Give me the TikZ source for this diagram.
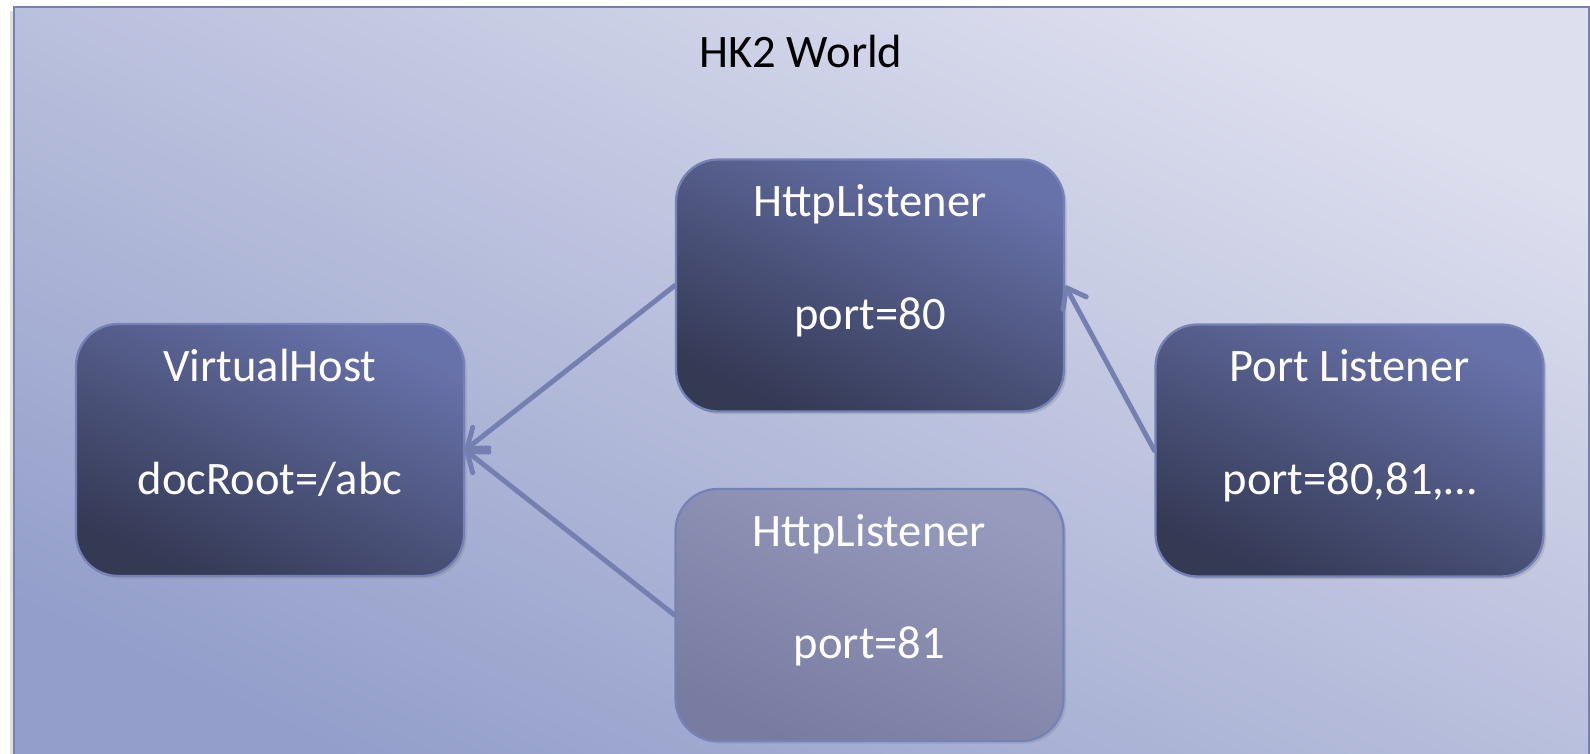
\documentclass[tikz,border=0pt]{standalone}
\usepackage{fontspec}
\setmainfont{Carlito}
\usetikzlibrary{arrows.meta,shadows}

\definecolor{worldtop}{HTML}{DDDFEE}
\definecolor{worldbot}{HTML}{939ECA}
\definecolor{frameline}{HTML}{7381B3}
\definecolor{beantop}{HTML}{6872AA}
\definecolor{beanbot}{HTML}{343954}
\definecolor{fadetop}{HTML}{979CBF}
\definecolor{fadebot}{HTML}{777CA0}
\definecolor{beanline}{HTML}{7682B5}
\definecolor{linkcol}{HTML}{7580B0}

\tikzset{
	bean/.style={draw=beanline, line width=1.3pt, rounded corners=0.84cm,
		minimum width=7.76cm, minimum height=5.04cm,
		top color=beantop, bottom color=beanbot, shading angle=-25,
		drop shadow={opacity=0.3, shadow xshift=1.5pt, shadow yshift=-1.5pt}},
	faded/.style={top color=fadetop, bottom color=fadebot, shading angle=-25},
	beantext/.style={anchor=north, inner sep=0pt, text=white, align=center,
		font=\fontsize{26.5}{32}\selectfont},
	link/.style={draw=linkcol, line width=2.8pt, line cap=round,
		-{Straight Barb[length=10pt, width=15pt, round]}}
}

\begin{document}
\begin{tikzpicture}[x=0.02cm, y=-0.02cm]
			%%%%% START %%%%%
			\useasboundingbox (0,0) rectangle (1590,754);
			\clip (0,0) rectangle (1590,754);
			
			% the world
			\draw[frameline, line width=1.4pt, top color=worldtop, bottom color=worldbot, shading angle=-25,
				drop shadow={opacity=0.25, shadow xshift=-2pt, shadow yshift=-2pt}] (14,7) rectangle (1589,790);
			\node[font=\fontsize{26.5}{32}\selectfont] (world) at (801,51) {HK2 World};
			
			% the boxes
			\node[bean] (vhost) at (270,450) {};
			\node[beantext] (vhosttext) at ([yshift=-0.52cm]vhost.north) {VirtualHost\\[32pt]docRoot=/abc};
			
			\node[bean] (http80) at (870,285.5) {};
			\node[beantext] (http80text) at ([yshift=-0.52cm]http80.north) {HttpListener\\[32pt]port=80};
			
			\node[bean, faded] (http81) at (869.5,615) {};
			\node[beantext] (http81text) at ([yshift=-0.52cm]http81.north) {HttpListener\\[32pt]port=81};
			
			\node[bean] (plistener) at (1349.5,450.5) {};
			\node[beantext] (plistenertext) at ([yshift=-0.52cm]plistener.north) {Port Listener\\[32pt]port=80,81,\dots};
			
			% the links
			\draw[link] (http80.west) -- (vhost.east);
			\draw[link] (http81.west) -- (vhost.east);
			\draw[link] (plistener.west) -- (http80.east);
			
			%%%%% END %%%%%
\end{tikzpicture}
\end{document}
